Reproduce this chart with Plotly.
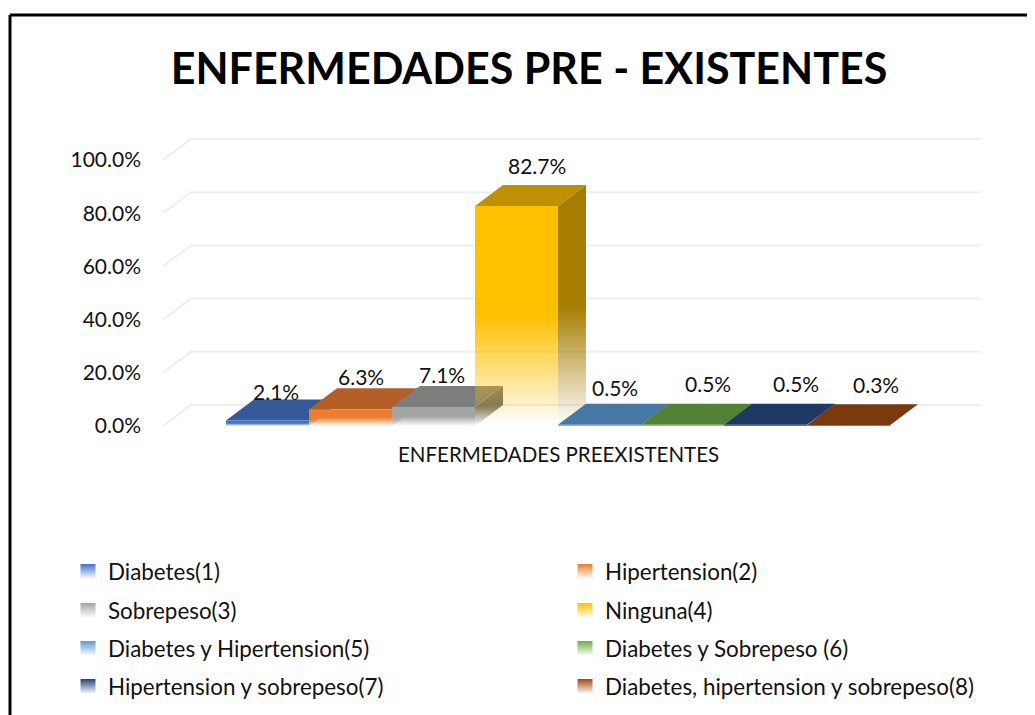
# -*- coding: utf-8 -*-
"""
barras 3D (estilo Excel) de enfermedades pre-existentes
"""
import plotly.graph_objs as go

categories = ['Diabetes(1)', 'Hipertension(2)', 'Sobrepeso(3)', 'Ninguna(4)',
              'Diabetes y Hipertension(5)', 'Diabetes y Sobrepeso (6)',
              'Hipertension y sobrepeso(7)', 'Diabetes, hipertension y sobrepeso(8)']
values = [2.1, 6.3, 7.1, 82.7, 0.5, 0.5, 0.5, 0.3]
labels = ['2.1%', '6.3%', '7.1%', '82.7%', '0.5%', '0.5%', '0.5%', '0.3%']
tick_values = [0, 20, 40, 60, 80, 100]
tick_labels = ['0.0%', '20.0%', '40.0%', '60.0%', '80.0%', '100.0%']

front_colors = ['#4472c4', '#ed7d31', '#a5a5a5', '#ffc000', '#5b9bd5', '#70ad47', '#264478', '#9e480e']
top_colors = ['#345999', '#b35f27', '#7d7d7d', '#bf9000', '#4678a5', '#548235', '#1f3864', '#7b3a0e']
side_colors = ['#2c4a80', '#99501f', '#6b6b6b', '#a67d00', '#3b6690', '#46702d', '#1a2f54', '#66300b']

# desplazamiento de las etiquetas respecto a la barra (px)
label_dx = [8, 10, 8, 20, 15, 25, 30, 27]
label_dy = [8, 12, 12, 20, 16, 20, 20, 20]

FONT = 'Lato'
OFF = 8      # margen que deja el body de la pagina
DX = 0.337   # profundidad en unidades de categoria
DY = 7.9     # profundidad en unidades de %
PX_X = 83.0
PX_Y = 2.66
LEFT, RIGHT, TOP, BOTTOM = 150, 981, 131, 426
W, H = 1035 - OFF, 715 - OFF
X0 = (LEFT - 267.5) / PX_X
X1 = (RIGHT - 267.5) / PX_X
Y1 = (BOTTOM - TOP) / PX_Y


def paper_x(px):
    return (px - LEFT) / float(RIGHT - LEFT)


def paper_y(py):
    return (BOTTOM - py) / float(BOTTOM - TOP)


def fade(color):
    r, g, b = [int(color[i:i + 2], 16) for i in (1, 3, 5)]
    return [[0, 'rgba(%d,%d,%d,0)' % (r, g, b)],
            [0.5, 'rgba(%d,%d,%d,1)' % (r, g, b)],
            [1, 'rgba(%d,%d,%d,1)' % (r, g, b)]]


def polygon(xs, ys, color, gradient=False):
    trace = dict(x=xs, y=ys, mode='lines', fill='toself', line=dict(width=0),
                 showlegend=False, hoverinfo='skip')
    if gradient:
        trace['fillgradient'] = dict(type='vertical', colorscale=fade(color))
    else:
        trace['fillcolor'] = color
    return go.Scatter(**trace)


traces = []

# lineas de la cuadricula: suelo inclinado y pared de fondo
grid_start = (163 - 267.5) / PX_X
for v in tick_values:
    traces.append(go.Scatter(x=[grid_start, grid_start + DX, X1], y=[v, v + DY, v + DY],
                             mode='lines', line=dict(color='#eeeeee', width=2),
                             showlegend=False, hoverinfo='skip', cliponaxis=False))

for i, v in enumerate(values):
    l, r = i - 0.5, i + 0.5
    traces.append(polygon([r, r + DX, r + DX, r, r], [0, DY, v + DY, v, 0], side_colors[i], True))
    traces.append(polygon([l, r, r + DX, l + DX, l], [v, v, v + DY, v + DY, v], top_colors[i]))
    traces.append(polygon([l, r, r, l, l], [0, 0, v, v, 0], front_colors[i], True))

# una leyenda por entrada: dos columnas, cuatro filas
rows_y = [572, 611, 649, 687]
cols_x = [68, 565]
legends = {}
for i, name in enumerate(categories):
    key = 'legend' if i == 0 else 'legend%d' % (i + 1)
    traces.append(go.Scatter(x=[None], y=[None], mode='markers', name=name, legend=key,
                             marker=dict(symbol='square', size=15, color=front_colors[i],
                                         gradient=dict(type='vertical', color='#ffffff'))))
    legends[key] = dict(x=paper_x(cols_x[i % 2]), y=paper_y(rows_y[i // 2]), xanchor='left', yanchor='middle',
                        bgcolor='rgba(0,0,0,0)', itemclick=False, itemdoubleclick=False,
                        font=dict(family=FONT, size=22.4, color='#111111'))

annotations = [dict(x=i, y=values[i] + DY, xref='x', yref='y', text=labels[i], showarrow=False,
                    xshift=label_dx[i], yshift=label_dy[i], yanchor='middle',
                    font=dict(family=FONT, size=21, color='#111111')) for i in range(len(values))]
annotations.append(dict(x=3.5, y=0, xref='x', yref='y', text='ENFERMEDADES PREEXISTENTES', showarrow=False,
                        yshift=-28, font=dict(family=FONT, size=20.5, color='#111111')))

# el marco solo se ve arriba y a la izquierda
border = [dict(type='line', xref='paper', yref='paper', x0=paper_x(10), x1=paper_x(1040),
               y0=paper_y(15), y1=paper_y(15), line=dict(color='#000000', width=3)),
          dict(type='line', xref='paper', yref='paper', x0=paper_x(10), x1=paper_x(10),
               y0=paper_y(15), y1=paper_y(740), line=dict(color='#000000', width=3))]

layout = go.Layout(
    width=W, height=H, autosize=False,
    margin=dict(l=LEFT - OFF, r=1035 - RIGHT, t=TOP - OFF, b=715 - BOTTOM, autoexpand=False),
    paper_bgcolor='white', plot_bgcolor='white',
    font=dict(family=FONT, size=21, color='#111111'),
    title=dict(text='<b>ENFERMEDADES PRE - EXISTENTES</b>', x=(529 - OFF) / float(W), xanchor='center',
               y=1 - (69 - OFF) / float(H), yanchor='middle', font=dict(family=FONT, size=43, color='#000000')),
    xaxis=dict(range=[X0, X1], visible=False, fixedrange=True),
    yaxis=dict(range=[0, Y1], tickvals=tick_values, ticktext=tick_labels, showgrid=False,
               zeroline=False, showline=False, ticks='', ticklabelstandoff=8, fixedrange=True),
    shapes=border,
    annotations=annotations,
)

fig = go.Figure(data=traces, layout=layout)
fig.update_layout(**legends)
fig.write_html("out.html")
